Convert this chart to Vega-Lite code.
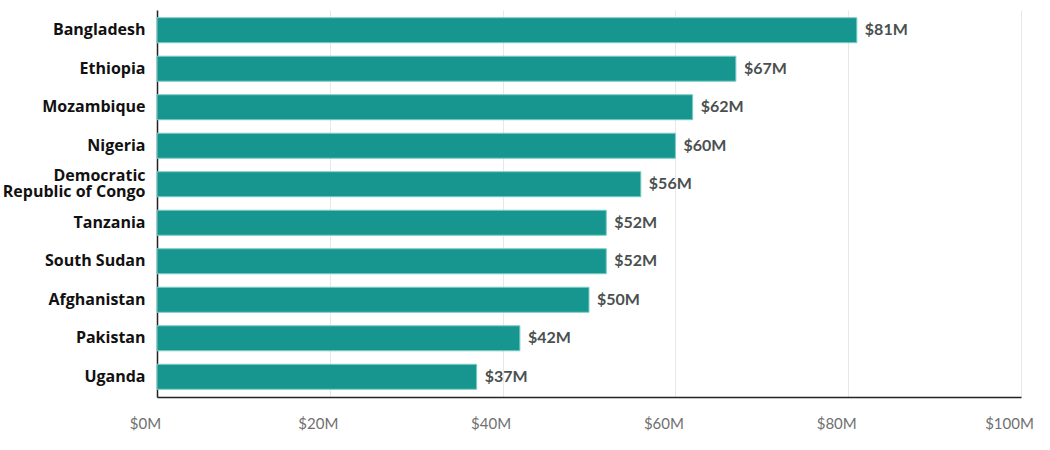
{
  "$schema": "https://vega.github.io/schema/vega-lite/v6.json",
  "width": 864,
  "height": 387,
  "autosize": "none",
  "padding": {"left": 157, "top": 10, "right": 29, "bottom": 53},
  "background": "white",
  "config": {"view": {"stroke": null}},
  "data": {
    "values": [
      {"country": "Bangladesh", "value": 81, "label": "$81M"},
      {"country": "Ethiopia", "value": 67, "label": "$67M"},
      {"country": "Mozambique", "value": 62, "label": "$62M"},
      {"country": "Nigeria", "value": 60, "label": "$60M"},
      {"country": "Democratic Republic of Congo", "value": 56, "label": "$56M"},
      {"country": "Tanzania", "value": 52, "label": "$52M"},
      {"country": "South Sudan", "value": 52, "label": "$52M"},
      {"country": "Afghanistan", "value": 50, "label": "$50M"},
      {"country": "Pakistan", "value": 42, "label": "$42M"},
      {"country": "Uganda", "value": 37, "label": "$37M"}
    ]
  },
  "encoding": {
    "y": {
      "field": "country",
      "type": "nominal",
      "sort": null,
      "scale": {"paddingInner": 0.35, "paddingOuter": 0.2},
      "axis": {
        "title": null,
        "domainColor": "#222222",
        "domainWidth": 1.5,
        "ticks": false,
        "labelPadding": 12,
        "labelFont": "Open Sans",
        "labelFontWeight": "bold",
        "labelFontSize": 16,
        "labelColor": "#111111",
        "labelLineHeight": 16,
        "labelOffset": {"condition": {"test": "datum.value == 'Democratic Republic of Congo'", "value": -8}, "value": 0},
        "labelExpr": "datum.label == 'Democratic Republic of Congo' ? ['Democratic', 'Republic of Congo'] : datum.label"
      }
    },
    "x": {
      "field": "value",
      "type": "quantitative",
      "scale": {"domain": [0, 100], "nice": false},
      "axis": {
        "title": null,
        "values": [0, 20, 40, 60, 80, 100],
        "labelExpr": "'$' + datum.value + 'M'",
        "ticks": false,
        "domainColor": "#222222",
        "domainWidth": 1.5,
        "gridColor": "#e8e8e8",
        "gridWidth": 1,
        "labelPadding": 19,
        "labelOffset": -12,
        "labelFont": "Lato",
        "labelFontSize": 15,
        "labelColor": "#707070",
        "labelFlush": false
      }
    }
  },
  "layer": [
    {
      "mark": {"type": "bar", "color": "#16968f", "stroke": "#7fcdc6", "strokeWidth": 1}
    },
    {
      "mark": {"type": "text", "align": "left", "baseline": "middle", "dx": 8, "font": "Lato", "fontWeight": "bold", "fontSize": 16, "color": "#4a5050"},
      "encoding": {"text": {"field": "label"}}
    }
  ]
}
